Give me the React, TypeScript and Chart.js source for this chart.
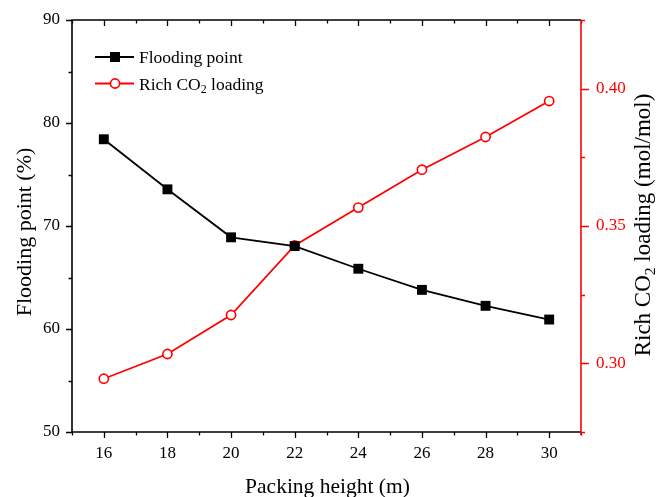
import React, { useEffect, useRef } from "react";
import { Chart, registerables } from "chart.js";

Chart.register(...registerables);

// ---- data ----
const packingHeight = [16, 18, 20, 22, 24, 26, 28, 30];
const floodingPoint = [78.42, 73.56, 68.9, 68.05, 65.85, 63.8, 62.25, 60.92];
const richLoading = [0.2944, 0.3034, 0.3176, 0.3429, 0.3567, 0.3705, 0.3824, 0.3955];
const xTickLabels = [16, 18, 20, 22, 24, 26, 28, 30];
const leftTickLabels = [50, 60, 70, 80, 90];
const rightTickLabels = [0.3, 0.35, 0.4];

const FONT = '"Liberation Serif", "Times New Roman", "DejaVu Serif", serif';
const RED = "#ff0000";

type Seg = { text: string; sub?: boolean };

function drawSegs(ctx: CanvasRenderingContext2D, segs: Seg[], x: number, y: number, size: number, align: "left" | "center") {
  const widths = segs.map((s) => {
    ctx.font = `${s.sub ? size * 0.68 : size}px ${FONT}`;
    return ctx.measureText(s.text).width;
  });
  const total = widths.reduce((a, b) => a + b, 0);
  let cx = align === "center" ? x - total / 2 : x;
  ctx.textAlign = "left";
  ctx.textBaseline = "alphabetic";
  segs.forEach((s, i) => {
    ctx.font = `${s.sub ? size * 0.68 : size}px ${FONT}`;
    ctx.fillText(s.text, cx, y + (s.sub ? size * 0.22 : 0));
    cx += widths[i];
  });
}

const legendItems: { segs: Seg[]; color: string; style: "rect" | "circle" }[] = [
  { segs: [{ text: "Flooding point" }], color: "#000", style: "rect" },
  { segs: [{ text: "Rich CO" }, { text: "2", sub: true }, { text: " loading" }], color: RED, style: "circle" },
];

const decorPlugin = {
  id: "decor",
  afterDraw(chart: any) {
    const { ctx, chartArea: a, scales } = chart;
    const xs = scales.x, ys = scales.y, y2 = scales.y2;
    ctx.save();
    ctx.lineCap = "butt";
    // ticks
    ctx.lineWidth = 1.3;
    ctx.strokeStyle = "#000";
    ctx.beginPath();
    xs.ticks.forEach((t: any) => {
      const px = Math.round(xs.getPixelForValue(t.value)) + 0.5;
      const len = t.label !== "" ? 6 : 3.5;
      ctx.moveTo(px, a.bottom);
      ctx.lineTo(px, a.bottom + len);
      ctx.moveTo(px, a.top);
      ctx.lineTo(px, a.top + len);
    });
    ys.ticks.forEach((t: any) => {
      const py = Math.round(ys.getPixelForValue(t.value)) + 0.5;
      const len = t.label !== "" ? 6 : 3.5;
      ctx.moveTo(a.left, py);
      ctx.lineTo(a.left - len, py);
    });
    ctx.stroke();
    ctx.strokeStyle = RED;
    ctx.beginPath();
    y2.ticks.forEach((t: any) => {
      const py = Math.round(y2.getPixelForValue(t.value)) + 0.5;
      const len = t.label !== "" ? 8 : 4;
      ctx.moveTo(a.right, py);
      ctx.lineTo(a.right + len, py);
    });
    ctx.stroke();
    // frame
    ctx.lineWidth = 1.6;
    ctx.strokeStyle = "#000";
    ctx.beginPath();
    ctx.moveTo(a.right, a.top);
    ctx.lineTo(a.left, a.top);
    ctx.lineTo(a.left, a.bottom);
    ctx.lineTo(a.right, a.bottom);
    ctx.stroke();
    ctx.strokeStyle = RED;
    ctx.beginPath();
    ctx.moveTo(a.right, a.top);
    ctx.lineTo(a.right, a.bottom + 3);
    ctx.stroke();

    // axis titles
    ctx.fillStyle = "#000";
    drawSegs(ctx, [{ text: "Packing height (m)" }], (a.left + a.right) / 2 + 1, a.bottom + 61, 21.5, "center");
    ctx.save();
    ctx.translate(30.5, (a.top + a.bottom) / 2 + 6);
    ctx.rotate(-Math.PI / 2);
    drawSegs(ctx, [{ text: "Flooding point (%)" }], 0, 0, 22, "center");
    ctx.restore();
    ctx.save();
    ctx.translate(a.right + 69, (a.top + a.bottom) / 2 - 1);
    ctx.rotate(-Math.PI / 2);
    drawSegs(ctx, [{ text: "Rich CO" }, { text: "2", sub: true }, { text: " loading (mol/mol)" }], 0, 0, 23, "center");
    ctx.restore();

    // legend
    legendItems.forEach((it, i) => {
      const cy = a.top + 37 + i * 26.5;
      const x0 = a.left + 23;
      ctx.strokeStyle = it.color;
      ctx.lineWidth = 1.8;
      ctx.beginPath();
      ctx.moveTo(x0, cy);
      ctx.lineTo(x0 + 39, cy);
      ctx.stroke();
      const mx = x0 + 20;
      if (it.style === "rect") {
        ctx.fillStyle = "#000";
        ctx.fillRect(mx - 5, cy - 5, 10, 10);
      } else {
        ctx.fillStyle = "#fff";
        ctx.lineWidth = 1.6;
        ctx.beginPath();
        ctx.arc(mx, cy, 4.6, 0, Math.PI * 2);
        ctx.fill();
        ctx.stroke();
      }
      ctx.fillStyle = "#000";
      drawSegs(ctx, it.segs, x0 + 44, cy + 6, 17.5, "left");
    });
    ctx.restore();
  },
};

export default function App() {
  const ref = useRef<HTMLCanvasElement | null>(null);
  useEffect(() => {
    if (!ref.current) return;
    const noGrid = { display: true, drawOnChartArea: false, drawTicks: true, color: "rgba(0,0,0,0)" };
    const chart = new Chart(ref.current, {
      type: "line",
      data: {
        datasets: [
          {
            label: "Flooding point",
            data: packingHeight.map((x, i) => ({ x, y: floodingPoint[i] })),
            yAxisID: "y",
            borderColor: "#000",
            backgroundColor: "#000",
            borderWidth: 1.8,
            pointStyle: "rect",
            pointRadius: 7,
            pointBorderWidth: 0,
            pointBackgroundColor: "#000",
            tension: 0,
          },
          {
            label: "Rich CO2 loading",
            data: packingHeight.map((x, i) => ({ x, y: richLoading[i] })),
            yAxisID: "y2",
            borderColor: RED,
            backgroundColor: "#fff",
            borderWidth: 1.8,
            pointStyle: "circle",
            pointRadius: 4.6,
            pointBorderWidth: 1.6,
            pointBackgroundColor: "#fff",
            pointBorderColor: RED,
            tension: 0,
          },
        ],
      },
      options: {
        animation: false,
        responsive: true,
        maintainAspectRatio: false,
        layout: { padding: { top: 20, left: 0, right: 0, bottom: 0 } },
        plugins: { legend: { display: false }, tooltip: { enabled: false } },
        scales: {
          x: {
            type: "linear",
            min: 15,
            max: 31,
            grid: { ...noGrid, tickLength: 6 },
            border: { display: false },
            ticks: {
              stepSize: 1,
              autoSkip: false,
              maxRotation: 0,
              padding: 5,
              color: "#000",
              font: { family: FONT, size: 17 },
              callback: (v: any) => (xTickLabels.includes(Number(v)) ? String(v) : ""),
            },
            afterFit: (s: any) => {
              s.height = 65;
            },
          },
          y: {
            type: "linear",
            position: "left",
            min: 50,
            max: 90,
            grid: { ...noGrid, tickLength: 6 },
            border: { display: false },
            ticks: {
              stepSize: 5,
              padding: 6,
              color: "#000",
              font: { family: FONT, size: 17 },
              callback: (v: any) => (leftTickLabels.includes(Number(v)) ? String(v) : ""),
            },
            afterFit: (s: any) => {
              s.width = 72;
            },
          },
          y2: {
            type: "linear",
            position: "right",
            min: 0.275,
            max: 0.425,
            grid: { ...noGrid, tickLength: 8 },
            border: { display: false },
            ticks: {
              stepSize: 0.025,
              padding: 7,
              color: RED,
              font: { family: FONT, size: 17 },
              callback: (v: any) =>
                rightTickLabels.some((t) => Math.abs(t - Number(v)) < 1e-6) ? Number(v).toFixed(2) : "",
            },
            afterFit: (s: any) => {
              s.width = 75;
            },
          },
        },
      },
      plugins: [decorPlugin],
    } as any);
    return () => chart.destroy();
  }, []);
  return (
    <div style={{ position: "absolute", left: 0, top: 0, width: 656, height: 497, background: "#fff" }}>
      <canvas ref={ref} />
    </div>
  );
}
